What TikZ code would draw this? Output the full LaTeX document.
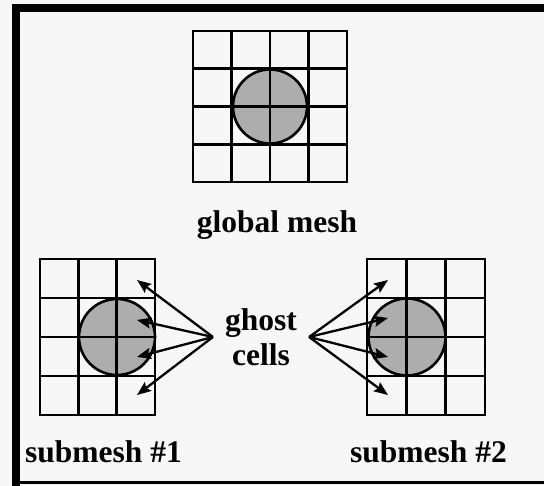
\documentclass[tikz,border=0pt]{standalone}
\usepackage{fontspec}
\setmainfont{Liberation Serif}
\usetikzlibrary{arrows.meta, positioning}

\begin{document}
\begin{tikzpicture}[
  x=1pt, y=1pt,
  frameline/.style={line width=8pt, black},
  meshline/.style={line width=2.6pt, black},
  ball/.style={line width=2.6pt, draw=black},
  lbl/.style={font=\fontsize{31.5}{34}\selectfont\bfseries, inner sep=0pt},
  arrow/.style={-{Stealth[length=14pt, width=11pt, inset=2.5pt]}, line width=2.3pt, black},
]
\useasboundingbox[fill=black!3] (0,0) rectangle (544,486);
% frame
\draw[frameline] (15.5,0) -- (15.5,478) -- (544,478) ;
\draw[line width=3pt] (15.5,3) -- (544,3);
% global mesh
\fill[black!32] (270,379.5) circle (37);
\draw[meshline, shift={(193,304)}] (0,0) grid[xstep=38.5, ystep=37.75] (154,151);
\draw[meshline] (193,304) rectangle (347,455);
\draw[ball] (270,379.5) circle (37);
\node[lbl, anchor=base] (global) at (277,253) {global mesh};
% submesh 1
\fill[black!32] (117,149) circle (38);
\draw[meshline, shift={(40,71)}] (0,0) grid[xstep=38.33, ystep=39] (115,156);
\draw[meshline] (40,71) rectangle (155,227);
\draw[ball] (117,149) circle (38);
\node[lbl, anchor=base west] (sub1) at (25,23) {submesh \#1};
% submesh 2
\fill[black!32] (407,149) circle (38.5);
\draw[meshline, shift={(367,71)}] (0,0) grid[xstep=39.33, ystep=39] (118,156);
\draw[meshline] (367,71) rectangle (485,227);
\draw[ball] (407,149) circle (38.5);
\node[lbl, anchor=base west] (sub2) at (350,23) {submesh \#2};
% ghost cells
\node[lbl, align=center, inner xsep=12pt, font=\fontsize{31.5}{35}\selectfont\bfseries]
  (ghost) at (261,149) {ghost\\cells};
\coordinate (la) at (137,206);
\coordinate (lb) at (137,166);
\coordinate (lc) at (137,129);
\coordinate (ld) at (137,91);
\coordinate (ra) at (388,206);
\coordinate (rb) at (388,168);
\coordinate (rc) at (388,129);
\coordinate (rd) at (388,91);
\foreach \t in {la,lb,lc,ld}
  \draw[arrow] (ghost.west) -- (\t);
\foreach \t in {ra,rb,rc,rd}
  \draw[arrow] (ghost.east) -- (\t);
\end{tikzpicture}
\end{document}
